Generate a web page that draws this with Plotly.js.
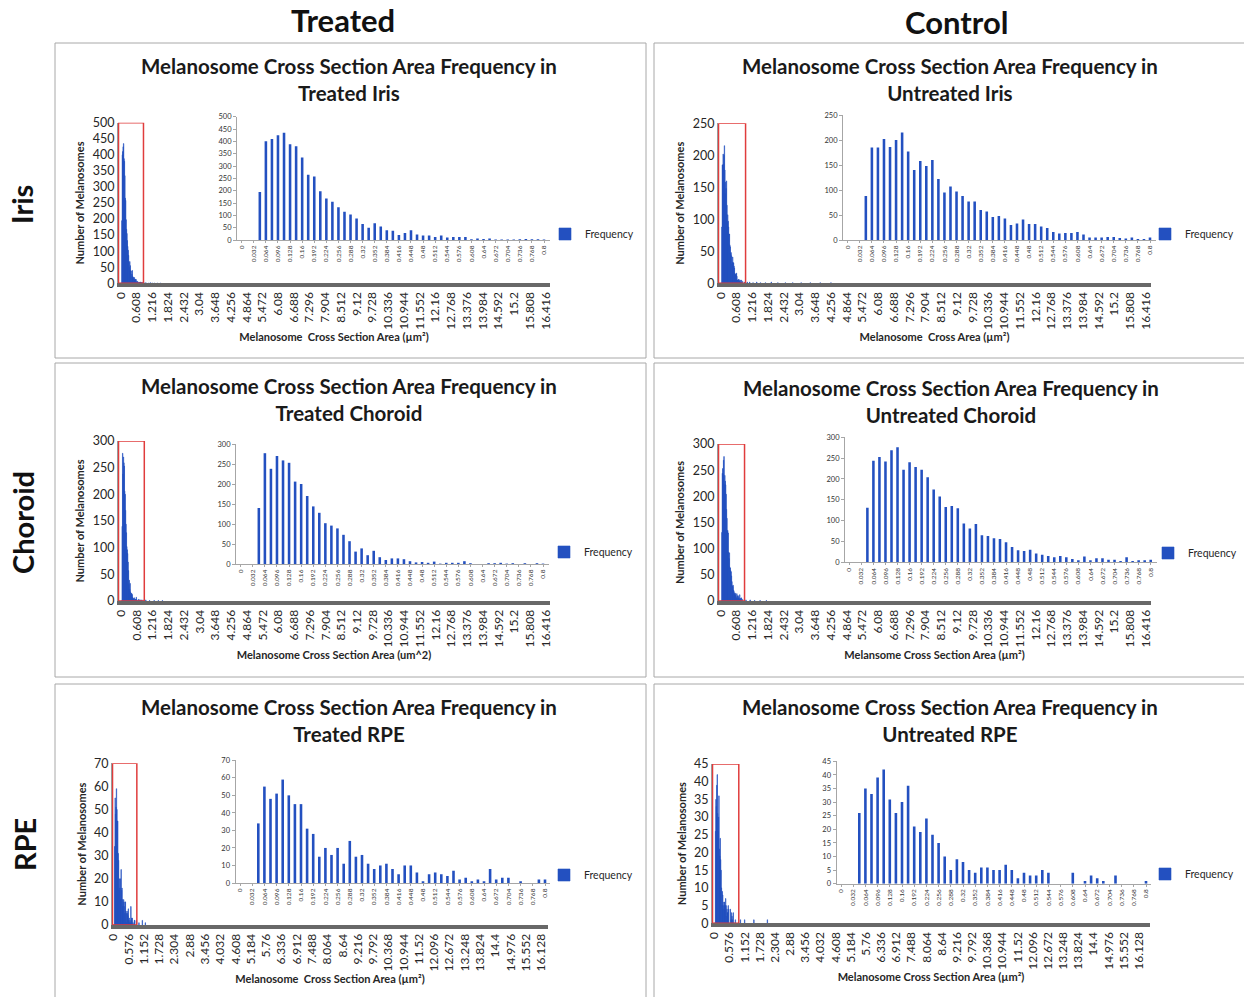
<!DOCTYPE html>
<html><head><meta charset="utf-8">
<script src="https://cdn.plot.ly/plotly-3.0.1.min.js"></script>
<style>html,body{margin:0;padding:0;background:#fff}#chart{width:1244px;height:997px}</style>
</head><body><div id="chart"></div>
<script>
// ---------- data ----------
const insetBins=[0,0.016,0.032,0.048,0.064,0.08,0.096,0.112,0.128,0.144,0.16,0.176,0.192,0.208,0.224,0.24,0.256,0.272,0.288,0.304,0.32,0.336,0.352,0.368,0.384,0.4,0.416,0.432,0.448,0.464,0.48,0.496,0.512,0.528,0.544,0.56,0.576,0.592,0.608,0.624,0.64,0.656,0.672,0.688,0.704,0.72,0.736,0.752,0.768,0.784,0.8];
const insetTickText=["0","0.032","0.064","0.096","0.128","0.16","0.192","0.224","0.256","0.288","0.32","0.352","0.384","0.416","0.448","0.48","0.512","0.544","0.576","0.608","0.64","0.672","0.704","0.736","0.768","0.8"];
const mainTickTextA=["0","0.608","1.216","1.824","2.432","3.04","3.648","4.256","4.864","5.472","6.08","6.688","7.296","7.904","8.512","9.12","9.728","10.336","10.944","11.552","12.16","12.768","13.376","13.984","14.592","15.2","15.808","16.416"];
const mainTickTextB=["0","0.576","1.152","1.728","2.304","2.88","3.456","4.032","4.608","5.184","5.76","6.336","6.912","7.488","8.064","8.64","9.216","9.792","10.368","10.944","11.52","12.096","12.672","13.248","13.824","14.4","14.976","15.552","16.128"];

const treatedIris=[0,0,0,195,400,410,425,435,388,380,335,265,258,198,168,155,133,115,103,87,65,50,68,55,40,38,20,28,40,22,18,18,12,18,10,12,12,12,3,6,4,6,2,2,2,2,3,4,3,3,2];
const untreatedIris=[0,0,0,88,185,185,202,186,200,215,177,140,158,148,160,122,95,107,97,88,77,77,60,57,46,48,43,30,33,41,32,32,27,24,16,13,14,14,16,11,5,5,5,6,6,4,3,5,2,2,5];
const treatedChoroid=[0,0,0,140,277,238,270,259,253,206,200,170,144,128,102,96,89,73,57,31,39,22,33,17,10,14,14,12,7,4,5,3,6,1,3,3,3,7,2,0,0,2,2,3,1,2,0,2,0,2,1];
const untreatedChoroid=[0,0,0,131,244,253,242,269,276,222,240,229,222,204,175,158,133,135,130,93,81,92,65,63,58,56,48,37,29,27,30,21,18,15,12,15,12,8,5,14,5,10,10,6,6,3,12,3,5,5,6];
const treatedRpe=[0,0,0,34,55,48,51,59,50,45,45,31,28,15,20,16,20,11,24,15,16,11,8,10,11,8,5,10,10,6,1,5,6,5,4,7,2,3,1,2,1,8,2,3,3,0,1,0,0,2,2];
const untreatedRpe=[0,0,0,26,35,33,39,42,31,26,30,36,21,19,24,18,15,10,5,9,8,5,4,6,6,5,5,7,5,2,4,3,3,5,4,0,0,0,4,0,1,3,2,1,0,3,0,0,0,0,1];

// small tail of the full histograms beyond 0.8
const treatedIrisTailX=[0.832,0.88,0.944,1.008,1.088,1.152,1.232,1.312,1.424,1.536];
const treatedIrisTailY=[3,2,2,1,1,2,1,1,1,1];
const untreatedIrisTailX=[0.848,0.928,1.024,1.12,1.248,1.392,1.536,1.728,1.952,2.208,2.496,2.784,3.104,3.456,3.84,4.256];
const untreatedIrisTailY=[3,2,2,2,1,2,1,1,2,1,1,1,1,1,1,1];
const treatedChoroidTailX=[0.848,0.96,1.104,1.28,1.44,1.6];
const treatedChoroidTailY=[2,2,1,1,1,1];
const untreatedChoroidTailX=[0.848,0.976,1.136,1.312,1.52,1.76];
const untreatedChoroidTailY=[3,2,2,1,1,1];
const treatedRpeTailX=[0.864,0.96,1.088,1.2];
const treatedRpeTailY=[2,1,2,1];
const untreatedRpeTailX=[0.992,1.152,1.504,2.016];
const untreatedRpeTailY=[1,1,1,1];

const columnTitles=["Treated","Control"];
const rowTitles=["Iris","Choroid","RPE"];
const titleLine1="Melanosome Cross Section Area Frequency in";
const yTitle="Number of Melanosomes";
const seriesName="Frequency";

// ---------- layout helpers ----------
const W=1244,H=997;
const FONT='Lato, "Open Sans", "DejaVu Sans", sans-serif';
const BLUE='#2350c0';
function rng(d0,d1,v0,p0,v1,p1){const k=(p1-p0)/(v1-v0);return [v0+(d0-p0)/k, v0+(d1-p0)/k];}
function dx(a,b){return [a/W,b/W];}
function dy(a,b){return [1-b/H,1-a/H];}

const panels=[
 {name:"Treated Iris",vals:treatedIris,tx:treatedIrisTailX,ty:treatedIrisTailY,ymax:500,dt:50,ticks:mainTickTextA,
  xt:"Melanosome  Cross Section Area (µm²)",frame:[55,43,646,358],tcx:349,tcy:80,
  mx:[118,550,120.7,545.7,16.416],my:[122.7,283.3],box1:0.88,
  ix:[237,550,241.7,544],iy:[116.7,240],leg:[581,234]},
 {name:"Untreated Iris",vals:untreatedIris,tx:untreatedIrisTailX,ty:untreatedIrisTailY,ymax:250,dt:50,ticks:mainTickTextA,
  xt:"Melanosome  Cross Area (µm²)",frame:[654,43,1250,358],tcx:950,tcy:80,
  mx:[718,1151,720.7,1146,16.416],my:[123.3,283.3],box1:0.96,
  ix:[843,1156,847.7,1150],iy:[115,240],leg:[1181,234]},
 {name:"Treated Choroid",vals:treatedChoroid,tx:treatedChoroidTailX,ty:treatedChoroidTailY,ymax:300,dt:50,ticks:mainTickTextA,
  xt:"Melanosome Cross Section Area (um^2)",frame:[55,363,646,677],tcx:349,tcy:399,
  mx:[118,550,121,546,16.416],my:[441,601],box1:0.9,
  ix:[236,549,240.7,543],iy:[444,564],leg:[580,552]},
 {name:"Untreated Choroid",vals:untreatedChoroid,tx:untreatedChoroidTailX,ty:untreatedChoroidTailY,ymax:300,dt:50,ticks:mainTickTextA,
  xt:"Melansome Cross Section Area (µm²)",frame:[654,363,1250,677],tcx:951,tcy:401,
  mx:[718,1151,720.7,1146,16.416],my:[444,601],box1:0.92,
  ix:[845,1157,849.3,1150.7],iy:[437.3,562.3],leg:[1184,553]},
 {name:"Treated RPE",vals:treatedRpe,tx:treatedRpeTailX,ty:treatedRpeTailY,ymax:70,dt:10,ticks:mainTickTextB,
  xt:"Melanosome  Cross Section Area (µm²)",frame:[55,684,646,1000],tcx:349,tcy:720,
  mx:[112,548,113.5,541.2,16.128],my:[763.3,925],box1:0.88,
  ix:[235.5,550,240,545],iy:[760.3,883],leg:[580,875]},
 {name:"Untreated RPE",vals:untreatedRpe,tx:untreatedRpeTailX,ty:untreatedRpeTailY,ymax:45,dt:5,ticks:mainTickTextB,
  xt:"Melanosome Cross Section Area (µm²)",frame:[654,684,1250,1000],tcx:950,tcy:720,
  mx:[712,1150,714.3,1139,16.128],my:[764,923.3],box1:0.93,
  ix:[836.5,1151,841,1146],iy:[761.3,883.7],leg:[1181,874]}
];

const layout={width:W,height:H,margin:{l:0,r:0,t:0,b:0,pad:0},paper_bgcolor:'#ffffff',plot_bgcolor:'rgba(0,0,0,0)',
  showlegend:true,font:{family:FONT,color:'#262626'},shapes:[],annotations:[]};
const data=[];

panels.forEach((p,i)=>{
  const m=2*i+1,n=2*i+2;
  const sfx=k=>k===1?'':String(k);
  const legId=i===0?'legend':'legend'+(i+1);
  const mainX=p.mx, ins=p.ix;
  data.push({type:'bar',name:seriesName,x:insetBins.concat(p.tx),y:p.vals.concat(p.ty),xaxis:'x'+sfx(m),yaxis:'y'+sfx(m),
    width:0.016,marker:{color:BLUE,line:{color:BLUE,width:0.6}},legend:legId,showlegend:true,hoverinfo:'skip'});
  data.push({type:'bar',name:seriesName,x:insetBins,y:p.vals,xaxis:'x'+sfx(n),yaxis:'y'+sfx(n),
    width:0.0068,marker:{color:BLUE,line:{width:0}},showlegend:false,hoverinfo:'skip'});
  layout['xaxis'+sfx(m)]={domain:dx(mainX[0],mainX[1]),range:rng(mainX[0],mainX[1],0,mainX[2],mainX[4],mainX[3]),anchor:'y'+sfx(m),
    tickmode:'array',tickvals:p.ticks.map(Number),ticktext:p.ticks,tickangle:-90,showline:true,linecolor:'#686868',linewidth:4,
    showgrid:false,zeroline:false,ticks:'',tickfont:{size:12,color:'#262626'},
    title:{text:p.xt,font:{size:11,weight:'bold',color:'#262626'},standoff:6}};
  layout['yaxis'+sfx(m)]={domain:dy(p.my[0],p.my[1]),range:[0,p.ymax],anchor:'x'+sfx(m),tick0:0,dtick:p.dt,
    showline:true,linecolor:'#9a9a9a',linewidth:1,showgrid:false,zeroline:false,ticks:'',tickfont:{size:12.5,color:'#262626'},
    title:{text:yTitle,font:{size:11,weight:'bold',color:'#262626'},standoff:5}};
  layout['xaxis'+sfx(n)]={domain:dx(ins[0],ins[1]),range:rng(ins[0],ins[1],0,ins[2],0.8,ins[3]),anchor:'y'+sfx(n),
    tickmode:'array',tickvals:insetTickText.map(Number),ticktext:insetTickText,tickangle:-90,showline:true,linecolor:'#a6a6a6',linewidth:1,
    showgrid:false,zeroline:false,ticks:'outside',ticklen:2,tickcolor:'#a6a6a6',tickfont:{size:6.5,color:'#333'}};
  layout['yaxis'+sfx(n)]={domain:dy(p.iy[0],p.iy[1]),range:[0,p.ymax],anchor:'x'+sfx(n),tick0:0,dtick:p.dt,
    showline:true,linecolor:'#a6a6a6',linewidth:1,showgrid:false,zeroline:false,ticks:'outside',ticklen:3,tickcolor:'#a6a6a6',
    tickfont:{size:7.5,color:'#333'}};
  layout[legId]={x:(p.leg[0]-36)/W,y:1-p.leg[1]/H,xanchor:'left',yanchor:'middle',bgcolor:'rgba(0,0,0,0)',borderwidth:0,
    itemwidth:30,font:{size:10.5,color:'#262626'}};
  // panel frame
  layout.shapes.push({type:'rect',xref:'paper',yref:'paper',x0:p.frame[0]/W,x1:p.frame[2]/W,y0:1-p.frame[3]/H,y1:1-p.frame[1]/H,
    line:{color:'#a8a8a8',width:1},fillcolor:'rgba(0,0,0,0)',layer:'below'});
  // red zoom box on main chart
  const r=layout['xaxis'+sfx(m)].range;
  layout.shapes.push({type:'rect',xref:'x'+sfx(m),yref:'y'+sfx(m),x0:r[0]+0.02,x1:p.box1,y0:0,y1:p.ymax,
    line:{color:'#e03c3c',width:1.5},fillcolor:'rgba(0,0,0,0)'});
  // panel title
  layout.annotations.push({xref:'paper',yref:'paper',x:p.tcx/W,y:1-p.tcy/H,xanchor:'center',yanchor:'middle',showarrow:false,
    text:titleLine1+'<br>'+p.name,font:{size:20.5,weight:'bold',color:'#1a1a1a'}});
});

// column and row headings
[[343,20],[956,22]].forEach((c,j)=>layout.annotations.push({xref:'paper',yref:'paper',x:c[0]/W,y:1-c[1]/H,xanchor:'center',yanchor:'middle',
  showarrow:false,text:columnTitles[j],font:{size:31,weight:'bold',color:'#111'}}));
[[22,205],[22,523],[24,845]].forEach((c,j)=>layout.annotations.push({xref:'paper',yref:'paper',x:c[0]/W,y:1-c[1]/H,xanchor:'center',yanchor:'middle',
  showarrow:false,textangle:-90,text:rowTitles[j],font:{size:29,weight:'bold',color:'#111'}}));

Plotly.newPlot('chart',data,layout,{displayModeBar:false,staticPlot:true});
</script>
</body></html>
